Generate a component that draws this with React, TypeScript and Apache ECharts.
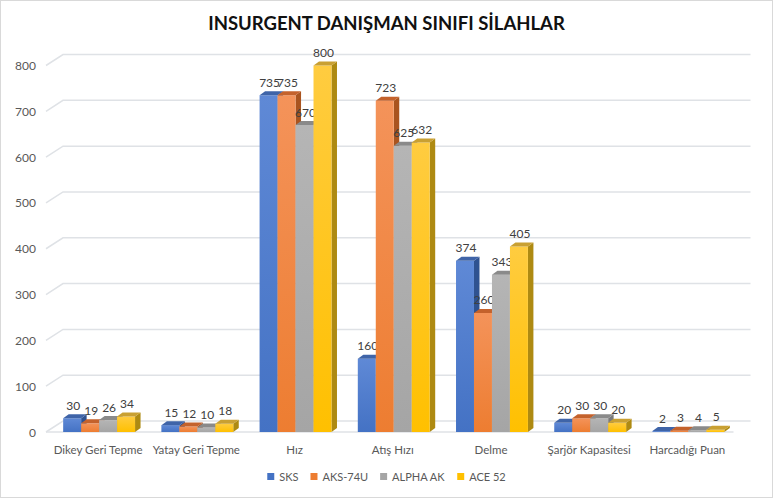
import React, { useEffect, useRef } from "react";
import * as echarts from "echarts";

const categories = [
  "Dikey Geri Tepme",
  "Yatay Geri Tepme",
  "Hız",
  "Atış Hızı",
  "Delme",
  "Şarjör Kapasitesi",
  "Harcadığı Puan",
];
const seriesNames = ["SKS", "AKS-74U", "ALPHA AK", "ACE 52"];
const sksValues = [30, 15, 735, 160, 374, 20, 2];
const aksValues = [19, 12, 735, 723, 260, 30, 3];
const alphaValues = [26, 10, 670, 625, 343, 30, 4];
const aceValues = [34, 18, 800, 632, 405, 20, 5];
const yTicks = [0, 100, 200, 300, 400, 500, 600, 700, 800];

const palettes = [
  { base: "#4472c4", light: "#5f89d6", top: "#3f64a8", side: "#2f5290" },
  { base: "#ed7d31", light: "#f4935a", top: "#c4622c", side: "#a9541f" },
  { base: "#a5a5a5", light: "#b5b5b5", top: "#8a8a8a", side: "#7a7a7a" },
  { base: "#ffc000", light: "#ffcc40", top: "#c9a032", side: "#ae8a12" },
];

const FONT = "Lato, 'Open Sans', sans-serif";

function makeBarRender(i: number) {
  return (params: any, api: any) => {
    const cat = api.value(0);
    const val = api.value(1);
    const base = api.coord([cat, 0]);
    const top = api.coord([cat, val]);
    const band = api.size([1, 0])[0];
    const w = band * 0.183;
    const dx = 5.5;
    const dy = -4;
    const x0 = base[0] - 2 * w + 1 + i * w;
    const x1 = x0 + w;
    const yb = base[1];
    const yt = top[1];
    const p = palettes[i];
    return {
      type: "group",
      children: [
        {
          type: "polygon",
          shape: { points: [[x1, yb], [x1 + dx, yb + dy], [x1 + dx, yt + dy], [x1, yt]] },
          style: { fill: p.side },
        },
        {
          type: "rect",
          shape: { x: x0, y: yt, width: w, height: Math.max(yb - yt, 0.5) },
          style: {
            fill: new echarts.graphic.LinearGradient(0, 0, 0, 1, [
              { offset: 0, color: p.light },
              { offset: 1, color: p.base },
            ]),
          },
        },
        {
          type: "polygon",
          shape: { points: [[x0, yt], [x1, yt], [x1 + dx, yt + dy], [x0 + dx, yt + dy]] },
          style: { fill: p.top },
        },
        {
          type: "text",
          x: x0 + w / 2 + 1,
          y: yt + dy - 3,
          style: {
            text: String(val),
            align: "center",
            verticalAlign: "bottom",
            fill: "#404040",
            fontSize: 12,
            fontFamily: FONT,
          },
        },
      ],
    };
  };
}

function wallRender(params: any, api: any) {
  const cs = params.coordSys;
  const t = api.value(1);
  const y = api.coord([0, t])[1];
  const wdx = 14;
  const wdy = -11;
  const children: any[] = [
    {
      type: "polyline",
      shape: { points: [[cs.x - 3, y], [cs.x + wdx, y + wdy], [cs.x + cs.width + wdx, y + wdy]] },
      style: { stroke: "#dfe2e6", lineWidth: 1.5, fill: "none" },
    },
  ];
  if (t === 0) {
    children.push({
      type: "line",
      shape: { x1: cs.x - 3, y1: y, x2: cs.x + cs.width - 3, y2: y },
      style: { stroke: "#dfe2e6", lineWidth: 1.5 },
    });
  }
  return { type: "group", children };
}

export default function App() {
  const ref = useRef<HTMLDivElement>(null);
  useEffect(() => {
    if (!ref.current) return;
    const chart = echarts.init(ref.current, undefined, { renderer: "svg" });
    const allValues = [sksValues, aksValues, alphaValues, aceValues];
    chart.setOption({
      animation: false,
      backgroundColor: "#ffffff",
      title: {
        text: "INSURGENT DANIŞMAN SINIFI SİLAHLAR",
        left: "center",
        top: 7,
        textStyle: { fontSize: 18.5, fontWeight: "bold", color: "#111", fontFamily: FONT },
      },
      legend: {
        data: seriesNames,
        bottom: 10,
        left: "center",
        icon: "rect",
        itemWidth: 7,
        itemHeight: 7,
        itemGap: 12,
        textStyle: { color: "#595959", fontSize: 11, fontFamily: FONT, padding: [0, 0, 0, 0] },
      },
      grid: { left: 48, right: 35.5, top: 64.5, bottom: 65 },
      xAxis: {
        type: "category",
        data: categories,
        axisLine: { show: false },
        axisTick: { show: false },
        axisLabel: { color: "#595959", fontSize: 11.5, fontFamily: FONT, margin: 11, interval: 0 },
      },
      yAxis: {
        type: "value",
        min: 0,
        max: 800,
        interval: 100,
        axisLine: { show: false },
        axisTick: { show: false },
        splitLine: { show: false },
        axisLabel: { color: "#595959", fontSize: 12, fontFamily: FONT, margin: 13, padding: [10, 0, 0, 0] },
      },
      series: [
        {
          type: "custom",
          name: "wall",
          z: 1,
          silent: true,
          renderItem: wallRender,
          data: yTicks.map((t) => [0, t]),
          encode: { x: 0, y: 1 },
        },
        ...seriesNames.map((name, i) => ({
          type: "custom",
          name,
          z: 2,
          itemStyle: { color: palettes[i].base },
          renderItem: makeBarRender(i),
          data: allValues[i].map((v, k) => [k, v]),
          encode: { x: 0, y: 1 },
        })),
      ],
    });
    return () => chart.dispose();
  }, []);
  return (
    <div
      style={{
        position: "absolute",
        left: 0,
        top: 0,
        width: 773,
        height: 498,
        boxSizing: "border-box",
        border: "1px solid #d9d9d9",
        background: "#fff",
      }}
    >
      <div ref={ref} style={{ width: 771, height: 496 }} />
    </div>
  );
}
